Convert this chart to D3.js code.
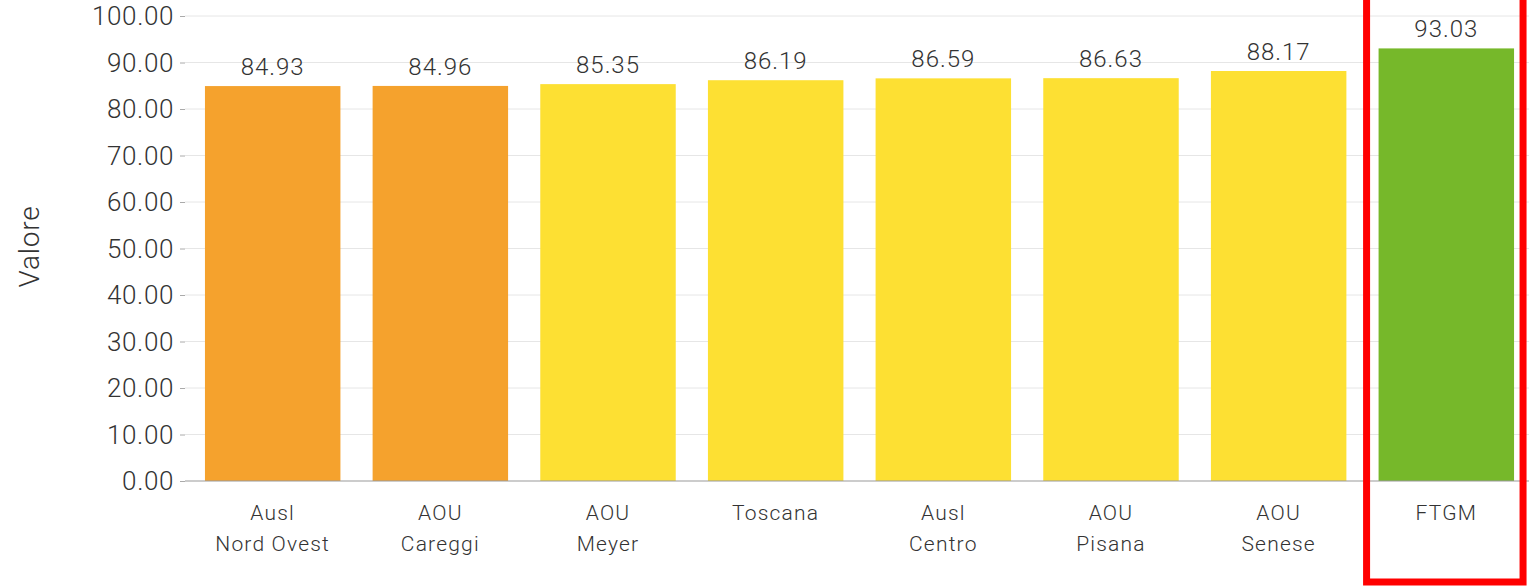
<!DOCTYPE html>
<html><head><meta charset="utf-8">
<script src="https://cdn.jsdelivr.net/npm/d3@7"></script>
<style>
html,body{margin:0;padding:0;background:#fff;}
svg text{font-family:Roboto,"Noto Sans",sans-serif;font-weight:300;fill:#333;}
</style></head>
<body><svg id="c" width="1529" height="588"></svg>
<script>
const categories = [["Ausl","Nord Ovest"],["AOU","Careggi"],["AOU","Meyer"],["Toscana"],["Ausl","Centro"],["AOU","Pisana"],["AOU","Senese"],["FTGM"]];
const values = [84.93, 84.96, 85.35, 86.19, 86.59, 86.63, 88.17, 93.03];
const bands = ["medio-basso","medio-basso","medio","medio","medio","medio","medio","alto"];
const yTicks = [0,10,20,30,40,50,60,70,80,90,100];
const highlighted = "FTGM";
const yTitle = "Valore";

const svg = d3.select("#c");
const W = 1529, H = 588;
const m = {left:185, right:-5, top:16, bottom:107};
const keys = categories.map(c => c.join(" "));
const x = d3.scaleBand().domain(keys).range([m.left, W - m.right]).paddingInner(0.192).paddingOuter(0.119);
const y = d3.scaleLinear().domain([0,100]).range([H - m.bottom, m.top]);
const color = d3.scaleOrdinal().domain(["medio-basso","medio","alto"]).range(["#F5A22D","#FDE033","#76B82A"]);

// gridlines
svg.append("g").selectAll("line").data(yTicks.filter(d=>d>0)).join("line")
  .attr("x1", m.left).attr("x2", W).attr("y1", d=>y(d)).attr("y2", d=>y(d))
  .attr("stroke","#e6e6e6").attr("stroke-width",1);

// y axis
const ya = svg.append("g").attr("transform",`translate(${m.left},0)`)
  .call(d3.axisLeft(y).tickValues(yTicks).tickFormat(d3.format(".2f")).tickSize(5).tickPadding(6));
ya.select(".domain").remove();
ya.selectAll(".tick line").attr("stroke","#aaa");
ya.selectAll(".tick text").attr("font-size",26).attr("letter-spacing","0.6px").style("fill","#333").attr("dy","0.34em");

// bars
svg.append("g").selectAll("rect").data(values).join("rect")
  .attr("x",(d,i)=>x(keys[i])).attr("width",x.bandwidth())
  .attr("y",d=>y(d)).attr("height",d=>y(0)-y(d))
  .attr("fill",(d,i)=>color(bands[i]));

// value labels
svg.append("g").selectAll("text").data(values).join("text")
  .attr("x",(d,i)=>x(keys[i])+x.bandwidth()/2).attr("y",d=>y(d)-11)
  .attr("text-anchor","middle").attr("font-size",24).attr("letter-spacing","1px").text(d=>d3.format(".2f")(d));

// x axis baseline
svg.append("line").attr("x1",m.left).attr("x2",W).attr("y1",y(0)).attr("y2",y(0))
  .attr("stroke","#999").attr("stroke-width",1);

// category labels
const cl = svg.append("g").selectAll("text").data(categories).join("text")
  .attr("x",(d,i)=>x(keys[i])+x.bandwidth()/2).attr("y",y(0)+39)
  .attr("text-anchor","middle").attr("font-size",21).attr("letter-spacing","1.2px");
cl.selectAll("tspan").data(d=>d).join("tspan")
  .attr("x",function(){return this.parentNode.getAttribute("x");})
  .attr("dy",(d,i)=>i===0?0:31).text(d=>d);

// y title
svg.append("text").attr("transform",`translate(39,${(y(0)+y(100))/2 - 2}) rotate(-90)`)
  .attr("text-anchor","middle").attr("font-size",28).attr("letter-spacing","0.8px").text(yTitle);

// highlight box
const hi = keys.indexOf(highlighted);
svg.append("rect").attr("x", x(keys[hi]) - 12).attr("y",-10)
  .attr("width", x.bandwidth()+24 - 3).attr("height", 592)
  .attr("fill","none").attr("stroke","#ff0000").attr("stroke-width",7);
</script></body></html>
